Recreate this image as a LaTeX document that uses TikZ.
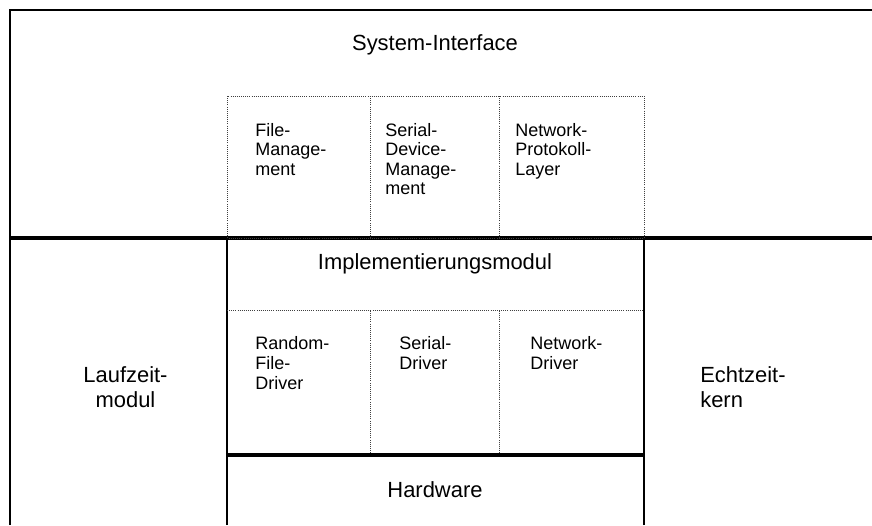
\documentclass[tikz,border=0pt]{standalone}
\usepackage{fontspec}
\setmainfont{Liberation Sans}
\usepackage{tikz}
\usetikzlibrary{positioning}
\tikzstyle{bigtext} = [inner sep=0pt, align=center, anchor=north, font=\fontsize{15.6}{17.8}\selectfont]
\tikzstyle{smalltext} = [inner sep=0pt, align=left, anchor=north west, font=\fontsize{12.8}{13.9}\selectfont]
\tikzstyle{heavyline} = [line width=2.2pt]
\tikzstyle{midline} = [line width=1.5pt]
\tikzstyle{dotline} = [line width=0.5pt, densely dotted, color=black!75]

\begin{document}
\begin{tikzpicture}
\useasboundingbox (0,0) rectangle (21.8,13.125);

% Outer frame
\draw[midline] (0.25,0) -- (0.25,12.875) -- (21.8,12.875);
\draw[heavyline] (0.25,7.175) -- (21.8,7.175);

% System-Interface
\node[bigtext] (sysif) at (10.875,12.2625) {System-Interface};
\draw[dotline] (5.675,7.175) rectangle (16.1,10.725);
\draw[dotline] (9.25,7.175) -- (9.25,10.725);
\draw[dotline] (12.475,7.175) -- (12.475,10.725);
\node[smalltext] (filemgmt) at (6.375,10.05) {File-\\Manage-\\ment};
\node[smalltext] (serialmgmt) at (9.625,10.05) {Serial-\\Device-\\Manage-\\ment};
\node[smalltext] (netlayer) at (12.875,10.05) {Network-\\Protokoll-\\Layer};

% Implementierungsmodul
\draw[midline] (5.675,0) -- (5.675,7.175);
\draw[midline] (16.1,0) -- (16.1,7.175);
\node[bigtext] (impl) at (10.875,6.8) {Implementierungsmodul};
\draw[dotline] (5.675,5.375) -- (16.1,5.375);
\draw[dotline] (9.25,1.75) -- (9.25,5.375);
\draw[dotline] (12.475,1.75) -- (12.475,5.375);
\node[smalltext] (randdrv) at (6.375,4.71) {Random-\\File-\\Driver};
\node[smalltext] (serdrv) at (9.975,4.71) {Serial-\\Driver};
\node[smalltext] (netdrv) at (13.25,4.71) {Network-\\Driver};

% Hardware
\draw[heavyline] (5.675,1.75) -- (16.1,1.75);
\node[bigtext] (hw) at (10.875,1.0875) {Hardware};

% Laufzeitmodul, Echtzeitkern
\node[bigtext] (laufzeit) at (3.1375,3.9625) {Laufzeit-\\modul};
\node[bigtext, align=left, anchor=north west] (echtzeit) at (17.5,3.9625) {Echtzeit-\\kern};
\end{tikzpicture}
\end{document}
